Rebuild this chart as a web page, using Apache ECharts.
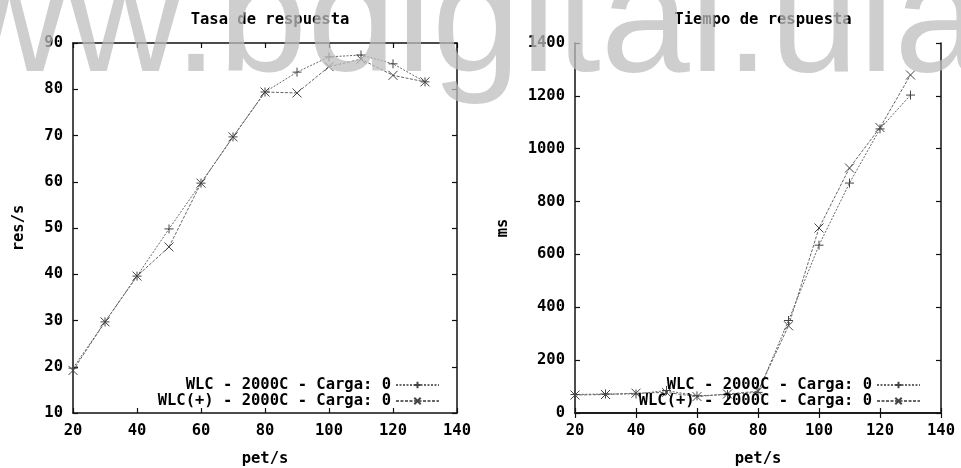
<!DOCTYPE html>
<html><head><meta charset="utf-8">
<script src="https://cdn.jsdelivr.net/npm/echarts/dist/echarts.min.js"></script>
<style>html,body{margin:0;padding:0;background:#fff}#c{width:961px;height:468px}</style>
</head><body><div id="c"></div>
<script>
// ---- data ----
const xValues = [20, 30, 40, 50, 60, 70, 80, 90, 100, 110, 120, 130];
const tasaWLC = [19.7, 29.7, 39.6, 49.8, 59.7, 69.7, 79.4, 83.7, 87.0, 87.4, 85.5, 81.6];
const tasaWLCplus = [19.2, 29.7, 39.6, 45.9, 59.7, 69.7, 79.4, 79.2, 84.9, 86.5, 83.0, 81.6];
const tiempoWLC = [70, 72, 72, 85, 65, 70, 78, 350, 635, 870, 1075, 1203];
const tiempoWLCplus = [68, 70, 75, 78, 62, 72, 82, 330, 700, 927, 1080, 1279];
const seriesNames = ['WLC - 2000C - Carga: 0', 'WLC(+) - 2000C - Carga: 0'];
const titles = ['Tasa de respuesta', 'Tiempo de respuesta'];
const xAxisName = 'pet/s';
const yAxisNames = ['res/s', 'ms'];
const xRange = { min: 20, max: 140, interval: 20 };
const yRangeTasa = { min: 10, max: 90, interval: 10 };
const yRangeTiempo = { min: 0, max: 1400, interval: 200 };
const watermark = 'www.bdigital.ula';

// ---- styles ----
const MONO = '"DejaVu Sans Mono", monospace';
const txt = { fontFamily: MONO, fontWeight: 'bold', fontSize: 15.5, color: '#000' };
const axisLineStyle = { show: true, lineStyle: { color: '#111', width: 1.5 } };
const tickStyle = { show: true, inside: true, length: 5, lineStyle: { color: '#111', width: 1.2 } };
const SYM_PLUS = 'path://M5,0L5,10M0,5L10,5';
const SYM_CROSS = 'path://M0,0L10,10M10,0L0,10';
const plain = v => String(v);

function xAxes(gi) {
  return [
    Object.assign({ type: 'value', gridIndex: gi, position: 'bottom', name: xAxisName,
      nameLocation: 'middle', nameGap: 38, nameTextStyle: txt,
      axisLine: axisLineStyle, axisTick: tickStyle, splitLine: { show: false },
      axisLabel: Object.assign({ margin: 10, formatter: plain }, txt) }, xRange),
    Object.assign({ type: 'value', gridIndex: gi, position: 'top',
      axisLine: axisLineStyle, axisTick: tickStyle, splitLine: { show: false },
      axisLabel: { show: false } }, xRange)
  ];
}
function yAxes(gi, range, name, gap) {
  return [
    Object.assign({ type: 'value', gridIndex: gi, position: 'left', name: name,
      nameLocation: 'middle', nameGap: gap, nameTextStyle: txt,
      axisLine: axisLineStyle, axisTick: tickStyle, splitLine: { show: false },
      axisLabel: Object.assign({ margin: 10, formatter: plain }, txt) }, range),
    Object.assign({ type: 'value', gridIndex: gi, position: 'right',
      axisLine: axisLineStyle, axisTick: tickStyle, splitLine: { show: false },
      axisLabel: { show: false } }, range)
  ];
}
function mk(name, ys, xi, yi, sym, dash) {
  return {
    name: name, type: 'line', xAxisIndex: xi, yAxisIndex: yi,
    data: xValues.map((x, i) => [x, ys[i]]),
    symbol: sym, symbolSize: 9, showSymbol: true,
    lineStyle: { color: '#666', width: 1, type: dash },
    itemStyle: { color: '#444', borderColor: '#444', borderWidth: 1 },
    animation: false
  };
}
function legendAt(right) {
  return { data: seriesNames, orient: 'vertical', align: 'right', right: right, top: 372,
    itemWidth: 43, itemHeight: 8, itemGap: 0, selectedMode: false,
    textStyle: Object.assign({ lineHeight: 16 }, txt) };
}

const chart = echarts.init(document.getElementById('c'), null, { renderer: 'canvas' });
chart.setOption({
  animation: false,
  backgroundColor: '#fff',
  title: [
    { text: titles[0], left: 265, top: 7, textAlign: 'center', textStyle: txt },
    { text: titles[1], left: 758, top: 7, textAlign: 'center', textStyle: txt }
  ],
  grid: [
    { left: 73, right: 504, top: 43, bottom: 55, containLabel: false, outerBoundsMode: 'none' },
    { left: 575, right: 20, top: 43, bottom: 55, containLabel: false, outerBoundsMode: 'none' }
  ],
  xAxis: xAxes(0).concat(xAxes(1)),
  yAxis: yAxes(0, yRangeTasa, yAxisNames[0], 46).concat(yAxes(1, yRangeTiempo, yAxisNames[1], 64)),
  legend: [legendAt(516), legendAt(35)],
  series: [
    mk(seriesNames[0], tasaWLC, 0, 0, SYM_PLUS, [2, 1.5]),
    mk(seriesNames[1], tasaWLCplus, 0, 0, SYM_CROSS, [3, 1.5]),
    mk(seriesNames[0], tiempoWLC, 2, 2, SYM_PLUS, [2, 1.5]),
    mk(seriesNames[1], tiempoWLCplus, 2, 2, SYM_CROSS, [3, 1.5])
  ],
  graphic: [
    { type: 'text', silent: true, z: 100,
      style: { text: watermark, x: -164, y: 27, verticalAlign: 'middle',
        font: '160px "Liberation Sans"', fill: 'rgb(190,190,190)', opacity: 0.75 } }
  ]
});
</script>
</body></html>
